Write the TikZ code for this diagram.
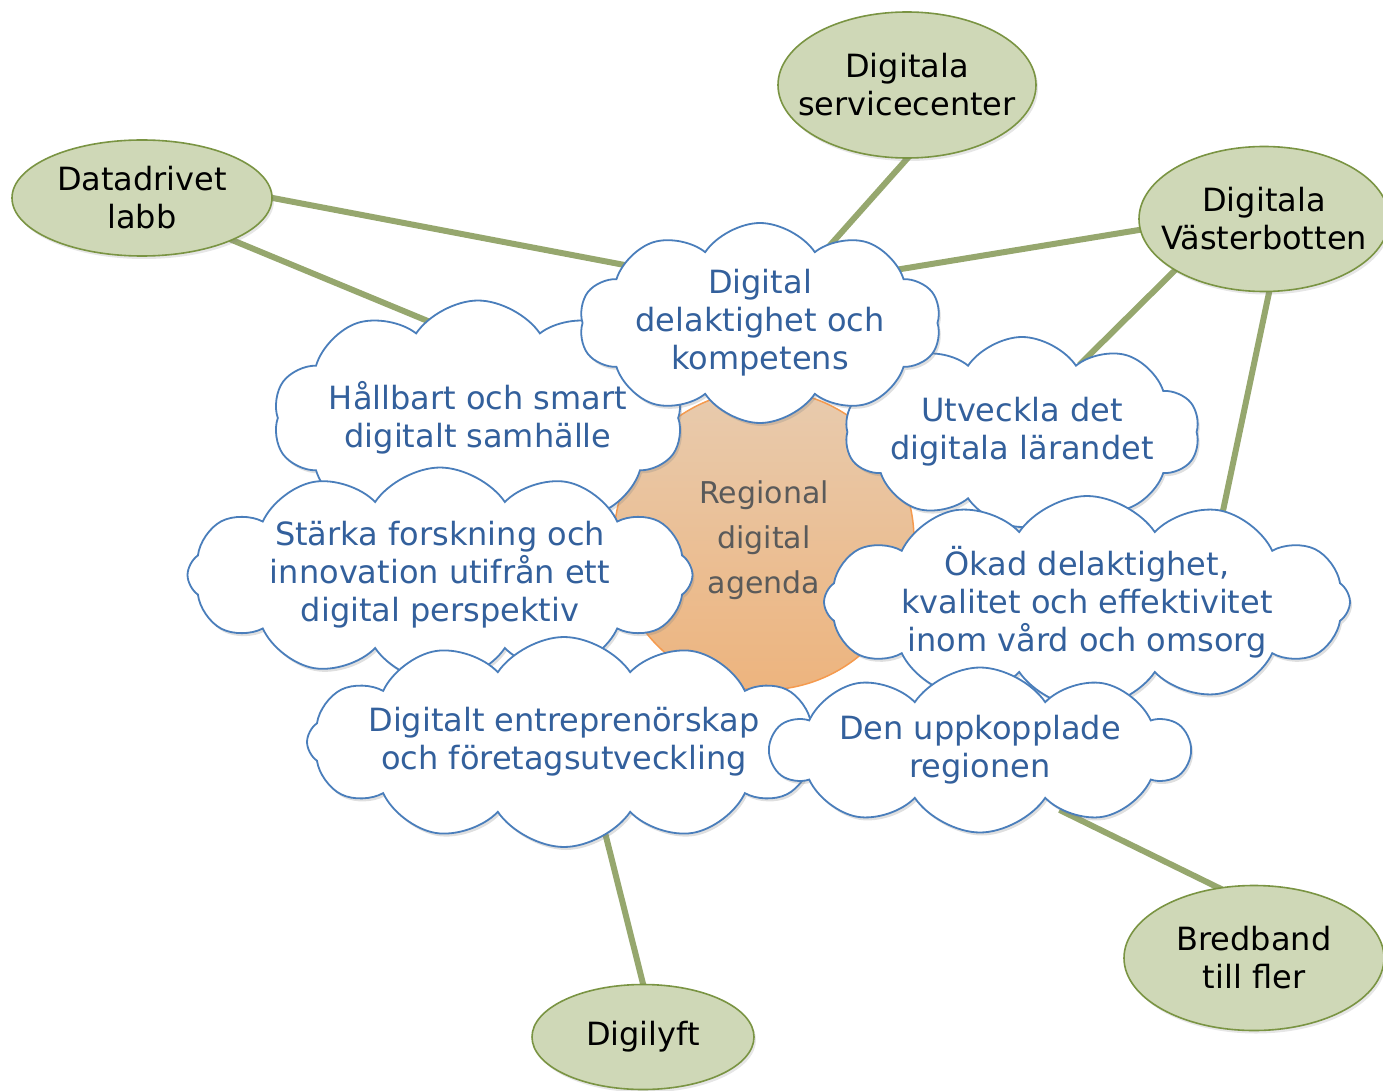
\documentclass[tikz,border=0pt]{standalone}
\usepackage{fontspec}
\setmainfont{DejaVu Sans}
\usetikzlibrary{shapes.symbols,shapes.geometric,shadows,backgrounds}

\definecolor{cloudline}{HTML}{4A7EBB}
\definecolor{cloudtext}{HTML}{33609C}
\definecolor{leaffill}{HTML}{CFD8B7}
\definecolor{leafline}{HTML}{7A9443}
\definecolor{linkgreen}{HTML}{96A76E}
\definecolor{coreline}{HTML}{F59A4E}
\definecolor{coretop}{HTML}{E8CBAE}
\definecolor{corebot}{HTML}{EDB47E}
\definecolor{coretext}{HTML}{5A5A5A}

\tikzset{
  goal/.style={cloud, cloud puffs=10, cloud puff arc=112, cloud ignores aspect,
    draw=cloudline, line width=1.8pt, fill=white,
    drop shadow={shadow xshift=2pt, shadow yshift=-3pt, opacity=0.25}},
  widegoal/.style={goal, cloud puffs=12},
  goaltext/.style={text=cloudtext, align=center, font=\fontsize{32}{38}\selectfont},
  leaf/.style={ellipse, draw=leafline, line width=1.6pt, fill=leaffill,
    drop shadow={shadow xshift=2pt, shadow yshift=-3pt, opacity=0.2}},
  leaftext/.style={text=black, align=center, font=\fontsize{32}{38}\selectfont},
  core/.style={circle, draw=coreline, line width=1.5pt, top color=coretop,
    bottom color=corebot, text=coretext, align=center, minimum size=300pt,
    font=\fontsize{30}{45}\selectfont},
  link/.style={draw=linkgreen, line width=6pt, shorten <=-4pt, shorten >=-10pt},
}

\begin{document}
\begin{tikzpicture}[x=1pt, y=-1pt]
\useasboundingbox (0,0) rectangle (1383,1091);

% Centre
\node[core] (rda) at (764,540) {Regional\\digital\\agenda};

% Clouds
\node[goal, minimum width=410pt, minimum height=235pt,
  label={[goaltext]center:Hållbart och smart\\digitalt samhälle}] (hs) at (478,418) {};
\node[goal, minimum width=355pt, minimum height=190pt,
  label={[goaltext]center:Utveckla det\\digitala lärandet}] (ut) at (1022,432) {};
\node[goal, minimum width=362pt, minimum height=200pt,
  label={[goaltext]center:Digital\\delaktighet och\\kompetens}] (dig) at (760,323) {};
\node[widegoal, minimum width=505pt, minimum height=215pt,
  label={[goaltext]center:Stärka forskning och\\innovation utifrån ett\\digital perspektiv}] (st) at (440,575) {};
\node[widegoal, minimum width=526pt, minimum height=212pt,
  label={[goaltext]center:Ökad delaktighet,\\kvalitet och effektivitet\\inom vård och omsorg}] (ok) at (1087,602) {};
\node[widegoal, minimum width=514pt, minimum height=210pt,
  label={[goaltext]center:Digitalt entreprenörskap\\och företagsutveckling}] (ent) at (564,742) {};
\node[goal, minimum width=418pt, minimum height=165pt,
  label={[goaltext]center:Den uppkopplade\\regionen}] (up) at (980,750) {};

% Ellipses
\node[leaf, minimum width=258pt, minimum height=146pt,
  label={[leaftext]center:Digitala\\servicecenter}] (sc) at (907,85) {};
\node[leaf, minimum width=260pt, minimum height=116pt,
  label={[leaftext]center:Datadrivet\\labb}] (dl) at (142,198) {};
\node[leaf, minimum width=250pt, minimum height=145pt,
  label={[leaftext]center:Digitala\\Västerbotten}] (vb) at (1264,219) {};
\node[leaf, minimum width=260pt, minimum height=145pt,
  label={[leaftext]center:Bredband\\till fler}] (bb) at (1254,958) {};
\node[leaf, minimum width=222pt, minimum height=105pt,
  label={[leaftext]center:Digilyft}] (dly) at (643,1037) {};

% Links
\begin{scope}[on background layer]
\draw[link] (sc.south) -- (dig.48);
\draw[link] (dl.east) -- (dig.157);
\draw[link] (dl.-25) -- (hs.118);
\draw[link] (vb.-175) -- (dig.21);
\draw[link] (vb.-150) -- (ut.49);
\draw[link] (vb.-86) -- (ok.34);
\draw[link] (dly.north) -- (ent.-66);
\draw[link] (bb.117) -- (up.-36);
\end{scope}

\end{tikzpicture}
\end{document}
